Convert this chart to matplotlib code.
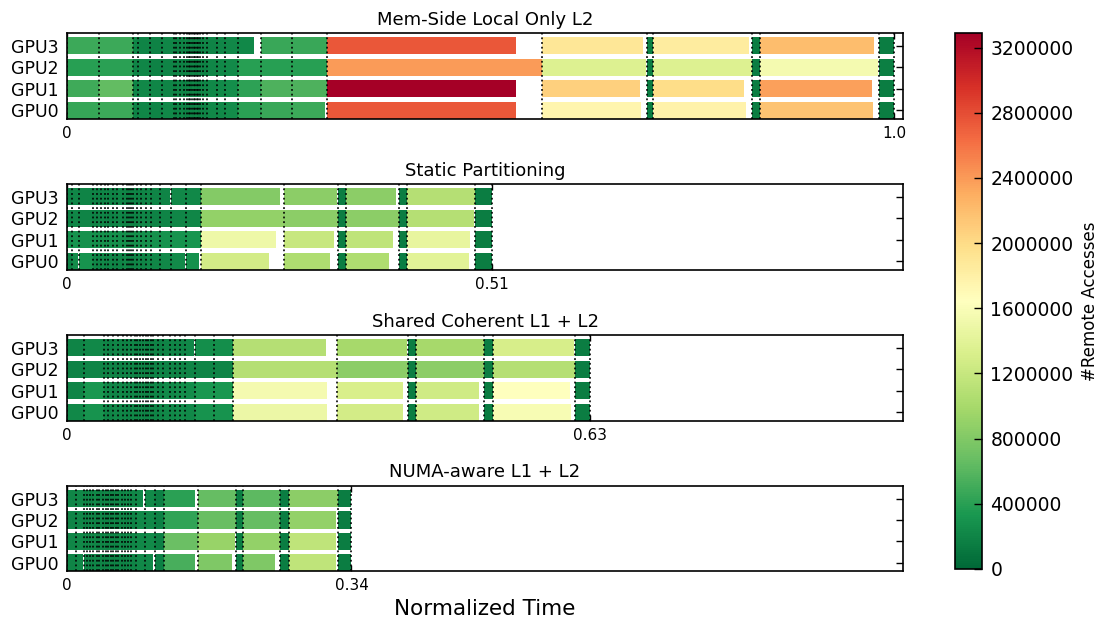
import numpy as np
import matplotlib
matplotlib.use("Agg")
import matplotlib.pyplot as plt
from matplotlib import cm
from matplotlib.colors import Normalize
from matplotlib.ticker import FormatStrFormatter

GPUS = ["GPU0", "GPU1", "GPU2", "GPU3"]
TITLES = ["Mem-Side Local Only L2", "Static Partitioning",
          "Shared Coherent L1 + L2", "NUMA-aware L1 + L2"]
END_LABELS = ["1.0", "0.51", "0.63", "0.34"]

# ---- Mem-Side Local Only L2: kernel boundaries (normalized time) ----
memside_bounds = [0, 0.039, 0.080, 0.086, 0.100, 0.115, 0.129, 0.132, 0.137, 0.141,
                  0.145, 0.147, 0.149, 0.151, 0.153, 0.155, 0.157, 0.159, 0.161, 0.165,
                  0.169, 0.181, 0.191, 0.207, 0.235, 0.272, 0.314, 0.574, 0.701, 0.709,
                  0.828, 0.838, 0.982, 1.000]
memside_gpu0 = [450_000, 480_000,
                190_000, 210_000, 200_000, 220_000, 190_000, 200_000, 210_000, 180_000,
                200_000, 190_000, 210_000, 200_000, 190_000, 220_000, 200_000, 190_000,
                210_000, 200_000, 220_000, 230_000, 250_000,
                400_000, 470_000, 480_000, 2_750_000, 1_750_000, 150_000, 1_780_000,
                150_000, 2_170_000, 150_000]
memside_gpu1 = [500_000, 650_000,
                200_000, 220_000, 210_000, 200_000, 190_000, 210_000, 200_000, 190_000,
                210_000, 200_000, 190_000, 220_000, 200_000, 210_000, 190_000, 200_000,
                220_000, 210_000, 230_000, 240_000, 260_000,
                420_000, 560_000, 560_000, 3_290_000, 2_070_000, 140_000, 1_980_000,
                150_000, 2_370_000, 150_000]
memside_gpu2 = [390_000, 400_000,
                200_000, 210_000, 190_000, 200_000, 210_000, 200_000, 190_000, 200_000,
                210_000, 190_000, 200_000, 210_000, 200_000, 190_000, 200_000, 210_000,
                200_000, 190_000, 210_000, 220_000, 240_000,
                390_000, 390_000, 390_000, 2_400_000, 1_350_000, 150_000, 1_350_000,
                150_000, 1_550_000, 160_000]
memside_gpu3 = [480_000, 480_000,
                210_000, 200_000, 190_000, 210_000, 200_000, 190_000, 200_000, 210_000,
                190_000, 200_000, 210_000, 190_000, 200_000, 210_000, 200_000, 190_000,
                200_000, 210_000, 200_000, 210_000, 220_000,
                220_000, 470_000, 470_000, 2_750_000, 1_900_000, 160_000, 1_850_000,
                150_000, 2_200_000, 150_000]
# (kernel index, gpu, finish time) for GPUs that finish before the kernel boundary
memside_early = [(23, 3, 0.226), (25, 0, 0.312),
                 (26, 0, 0.543), (26, 1, 0.543), (26, 3, 0.543),
                 (27, 0, 0.694), (27, 1, 0.693), (27, 2, 0.700), (27, 3, 0.697),
                 (29, 0, 0.821), (29, 1, 0.819), (29, 3, 0.825),
                 (31, 0, 0.975), (31, 1, 0.973), (31, 2, 0.981), (31, 3, 0.976)]

# ---- Static Partitioning ----
static_bounds = [0, 0.006, 0.0145, 0.032, 0.036, 0.041, 0.046, 0.050, 0.056, 0.061,
                 0.068, 0.072, 0.075, 0.077, 0.080, 0.085, 0.090, 0.096, 0.102, 0.112,
                 0.126, 0.144, 0.162, 0.262, 0.328, 0.337, 0.401, 0.411, 0.493, 0.514]
static_gpu0 = [170_000, 250_000, 300_000,
               210_000, 200_000, 220_000, 200_000, 210_000, 190_000, 200_000, 220_000,
               200_000, 210_000, 190_000, 200_000, 210_000, 200_000, 220_000, 210_000,
               230_000, 240_000, 280_000,
               1_280_000, 1_050_000, 150_000, 1_050_000, 150_000, 1_400_000, 150_000]
static_gpu1 = [290_000, 300_000, 290_000,
               280_000, 270_000, 290_000, 280_000, 270_000, 290_000, 280_000, 270_000,
               280_000, 290_000, 270_000, 280_000, 290_000, 280_000, 270_000, 290_000,
               300_000, 300_000, 310_000,
               1_500_000, 1_200_000, 150_000, 1_150_000, 150_000, 1_440_000, 150_000]
static_gpu2 = [200_000, 210_000, 200_000,
               190_000, 200_000, 210_000, 200_000, 190_000, 200_000, 210_000, 190_000,
               200_000, 210_000, 200_000, 190_000, 200_000, 210_000, 200_000, 190_000,
               200_000, 210_000, 210_000,
               890_000, 850_000, 150_000, 850_000, 150_000, 1_080_000, 150_000]
static_gpu3 = [200_000, 210_000, 200_000,
               200_000, 190_000, 200_000, 210_000, 200_000, 190_000, 210_000, 200_000,
               190_000, 200_000, 210_000, 200_000, 190_000, 200_000, 210_000, 200_000,
               200_000, 220_000, 220_000,
               820_000, 850_000, 150_000, 850_000, 150_000, 1_080_000, 150_000]
static_early = [(1, 0, 0.0128), (2, 0, 0.031), (19, 3, 0.125), (20, 0, 0.143),
                (21, 0, 0.160),
                (22, 0, 0.244), (22, 1, 0.253), (22, 3, 0.258),
                (23, 0, 0.318), (23, 1, 0.323), (23, 3, 0.327),
                (25, 0, 0.389), (25, 1, 0.394), (25, 3, 0.398),
                (27, 0, 0.486), (27, 1, 0.487), (27, 2, 0.492)]

# ---- Shared Coherent L1 + L2 ----
shared_bounds = [0, 0.021, 0.045, 0.050, 0.056, 0.062, 0.068, 0.072, 0.078, 0.082,
                 0.085, 0.088, 0.092, 0.095, 0.098, 0.101, 0.104, 0.110, 0.116, 0.125,
                 0.131, 0.137, 0.143, 0.155, 0.178, 0.201, 0.327, 0.412, 0.422, 0.504,
                 0.515, 0.614, 0.633]
shared_gpu0 = [220_000, 300_000,
               210_000, 200_000, 220_000, 210_000, 200_000, 190_000, 210_000, 220_000,
               200_000, 210_000, 190_000, 200_000, 210_000, 220_000, 200_000, 210_000,
               230_000, 220_000, 240_000, 250_000,
               230_000, 300_000, 300_000,
               1_480_000, 1_280_000, 150_000, 1_250_000, 150_000, 1_580_000, 150_000]
shared_gpu1 = [200_000, 330_000,
               220_000, 210_000, 200_000, 220_000, 210_000, 200_000, 220_000, 210_000,
               200_000, 220_000, 210_000, 200_000, 210_000, 220_000, 210_000, 200_000,
               240_000, 230_000, 250_000, 260_000,
               250_000, 330_000, 330_000,
               1_550_000, 1_320_000, 150_000, 1_250_000, 150_000, 1_640_000, 150_000]
shared_gpu2 = [190_000, 200_000,
               190_000, 200_000, 190_000, 180_000, 200_000, 190_000, 200_000, 190_000,
               180_000, 200_000, 190_000, 200_000, 190_000, 180_000, 190_000, 200_000,
               190_000, 200_000, 190_000, 200_000,
               200_000, 200_000, 200_000,
               1_080_000, 860_000, 150_000, 860_000, 150_000, 1_080_000, 150_000]
shared_gpu3 = [200_000, 230_000,
               200_000, 190_000, 210_000, 200_000, 190_000, 200_000, 210_000, 200_000,
               190_000, 200_000, 210_000, 190_000, 200_000, 210_000, 200_000, 190_000,
               200_000, 210_000, 200_000, 210_000,
               220_000, 260_000, 260_000,
               1_080_000, 990_000, 150_000, 990_000, 150_000, 1_300_000, 150_000]
shared_early = [(22, 3, 0.153),
                (25, 0, 0.315), (25, 1, 0.315), (25, 3, 0.313),
                (26, 0, 0.406), (26, 1, 0.406), (26, 3, 0.411),
                (28, 0, 0.498), (28, 1, 0.498),
                (30, 0, 0.609), (30, 1, 0.608), (30, 3, 0.613)]

# ---- NUMA-aware L1 + L2 ----
numa_bounds = [0, 0.011, 0.021, 0.024, 0.028, 0.032, 0.036, 0.039, 0.043, 0.047,
               0.050, 0.053, 0.056, 0.059, 0.062, 0.066, 0.070, 0.074, 0.078, 0.084,
               0.094, 0.106, 0.117, 0.159, 0.204, 0.213, 0.257, 0.268, 0.328, 0.344]
numa_gpu0 = [200_000, 230_000,
             200_000, 210_000, 190_000, 200_000, 210_000, 200_000, 190_000, 200_000,
             210_000, 200_000, 190_000, 210_000, 200_000, 190_000, 200_000, 210_000,
             200_000,
             220_000, 230_000, 170_000,
             530_000, 790_000, 150_000, 790_000, 150_000, 1_150_000, 150_000]
numa_gpu1 = [210_000, 220_000,
             210_000, 200_000, 220_000, 210_000, 200_000, 210_000, 220_000, 200_000,
             210_000, 220_000, 200_000, 210_000, 220_000, 200_000, 210_000, 220_000,
             210_000,
             230_000, 240_000, 170_000,
             690_000, 920_000, 150_000, 890_000, 150_000, 1_150_000, 150_000]
numa_gpu2 = [200_000, 210_000,
             190_000, 200_000, 210_000, 190_000, 200_000, 210_000, 190_000, 200_000,
             190_000, 200_000, 210_000, 190_000, 200_000, 210_000, 190_000, 200_000,
             190_000,
             220_000, 220_000, 170_000,
             430_000, 680_000, 150_000, 660_000, 150_000, 890_000, 150_000]
numa_gpu3 = [210_000, 220_000,
             200_000, 210_000, 200_000, 220_000, 210_000, 200_000, 210_000, 220_000,
             200_000, 210_000, 200_000, 220_000, 210_000, 200_000, 220_000, 200_000,
             210_000,
             230_000, 240_000, 170_000,
             400_000, 660_000, 150_000, 620_000, 150_000, 860_000, 150_000]
numa_early = [(1, 0, 0.0195), (19, 3, 0.092), (20, 0, 0.104),
              (22, 0, 0.155), (22, 3, 0.155),
              (23, 0, 0.200), (23, 1, 0.203),
              (25, 0, 0.2515),
              (27, 0, 0.325), (27, 1, 0.325), (27, 2, 0.325)]

PANELS = [
    (memside_bounds, [memside_gpu0, memside_gpu1, memside_gpu2, memside_gpu3], memside_early),
    (static_bounds, [static_gpu0, static_gpu1, static_gpu2, static_gpu3], static_early),
    (shared_bounds, [shared_gpu0, shared_gpu1, shared_gpu2, shared_gpu3], shared_early),
    (numa_bounds, [numa_gpu0, numa_gpu1, numa_gpu2, numa_gpu3], numa_early),
]

vmax = max(max(v) for _, vals, _ in PANELS for v in vals)
cmap = plt.get_cmap("RdYlGn_r")
norm = Normalize(vmin=0, vmax=vmax)

W, H = 1097, 624
fig = plt.figure(figsize=(W / 100, H / 100), dpi=100)

left, width, height = 67 / W, 836 / W, 85.7 / H
tops = [33, 184, 335, 485.7]
BAR_H = 0.8


def draw_panel(ax, bounds, values, early, end_label, title):
    finish = {(k, g): t for k, g, t in early}
    n_kernels = len(bounds) - 1
    for g, vals in enumerate(values):
        for k, v in enumerate(vals[:n_kernels]):
            start = bounds[k]
            stop = finish.get((k, g), bounds[k + 1])
            ax.barh(g, stop - start, left=start, height=BAR_H,
                    color=cmap(norm(v)), linewidth=0, zorder=2)
    # kernel launch boundaries
    for b in bounds:
        ax.axvline(b, color="black", linestyle=(0, (1.0, 1.6)), linewidth=1.3,
                   alpha=0.9, zorder=3)
    ax.set_xlim(0, 1.011)
    ax.set_ylim(-0.4, 3.6)
    ax.set_yticks(range(len(GPUS)))
    ax.set_yticklabels(GPUS, fontsize=12.5)
    ax.set_xticks([0, bounds[-1]])
    ax.set_xticklabels(["0", end_label], fontsize=11)
    ax.tick_params(axis="y", direction="in", left=True, right=True, length=5, width=1, pad=6)
    ax.tick_params(axis="x", direction="in", top=True, bottom=True, length=4, width=1, pad=5)
    for s in ax.spines.values():
        s.set_linewidth(1.2)
    ax.set_title(title, fontsize=13, pad=6)


for i, (bounds, values, early) in enumerate(PANELS):
    ax = fig.add_axes([left, 1 - (tops[i] + 85.7) / H, width, height])
    draw_panel(ax, bounds, values, early, END_LABELS[i], TITLES[i])

fig.text((67 + 903) / 2 / W, 1 - 609 / H, "Normalized Time",
         ha="center", va="center", fontsize=15.5)

cax = fig.add_axes([955 / W, 1 - 569 / H, 27 / W, 536 / H])
sm = cm.ScalarMappable(norm=norm, cmap=cmap)
cb = fig.colorbar(sm, cax=cax, ticks=np.arange(0, 3_200_001, 400_000))
cb.ax.yaxis.set_major_formatter(FormatStrFormatter("%d"))
cb.ax.tick_params(direction="in", labelsize=13.5, length=6, width=1, pad=6)
cb.outline.set_linewidth(1.2)
cb.set_label("#Remote Accesses", fontsize=12, labelpad=5)

fig.savefig("out.png", dpi=100)
